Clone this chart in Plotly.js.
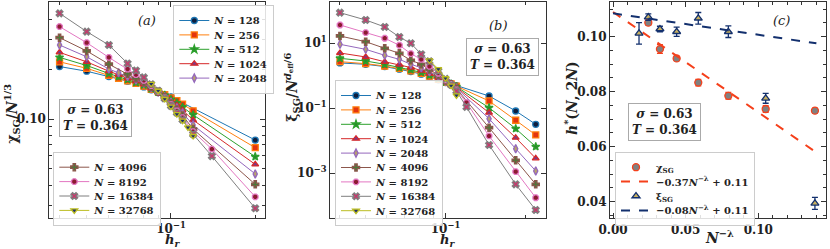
<!DOCTYPE html>
<html><head><meta charset="utf-8">
<script src="https://cdn.plot.ly/plotly-3.0.1.min.js"></script>
<style>html,body{margin:0;padding:0;background:#fff}#chart{width:830px;height:249px}</style>
</head><body><div id="chart"></div>
<script>
// ---------------- DATA ----------------
const sizes = ['128','256','512','1024','2048','4096','8192','16384','32768'];

// panel (a): chi_SG / N^{1/3} vs h_r
const hrA = [0.04,0.05,0.06,0.065,0.07,0.075,0.08,0.085,0.09,0.095,0.1,0.105,0.11,0.115,0.12,0.14,0.2];
const chi_128   = [0.207,0.194,0.180,null,0.169,null,0.156,0.150,0.145,0.140,0.136,null,null,null,null,null,0.0747];
const chi_256   = [0.221,0.202,0.183,0.176,0.170,0.164,0.158,0.151,0.146,0.140,0.134,0.129,0.123,null,0.112,null,0.0672];
const chi_512   = [0.235,0.210,0.188,0.180,0.173,0.166,0.160,0.152,0.145,0.139,0.131,0.125,0.118,null,0.106,null,0.0593];
const chi_1024  = [0.252,0.221,0.194,0.185,0.176,0.169,0.162,0.153,0.145,0.137,0.128,0.121,0.113,null,0.0986,null,0.0533];
const chi_2048  = [0.279,0.237,0.200,0.190,0.180,0.172,0.164,0.154,0.145,0.136,0.126,0.117,0.109,null,0.092,null,0.0467];
const chi_4096  = [0.309,0.257,0.214,null,0.187,0.176,0.166,0.156,0.146,0.135,0.124,0.114,0.105,null,0.087,null,0.0404];
const chi_8192  = [0.360,0.288,0.235,null,0.200,0.185,0.171,0.159,0.147,0.134,0.122,0.112,0.102,null,0.084,0.0659,0.0340];
const chi_16384 = [0.433,0.336,0.279,null,0.216,0.196,0.178,0.162,0.148,0.133,0.120,0.109,0.099,null,0.081,0.0598,0.0290];
const chi_32768 = [null,null,null,null,null,null,null,0.163,0.148,0.132,0.1186,0.107,0.0977,0.089,0.079,null,null];

// panel (b): xi_SG / N^{d_eff/6} vs h_r
const hrB = [0.04,0.05,0.059,0.067,0.074,0.081,0.087,0.094,0.1,0.105,0.11,0.12,0.146,0.184,0.219];
const xi_128   = [2.48,2.26,1.92,1.6,1.35,1.12,0.93,0.75,0.62,0.57,0.50,null,0.239,0.0826,0.0322];
const xi_256   = [2.72,2.36,2.0,1.68,1.42,1.18,0.97,0.78,0.63,0.565,0.48,null,0.168,0.0428,0.0151];
const xi_512   = [3.45,2.85,2.26,1.8,1.55,1.28,1.05,0.82,0.64,0.56,0.46,null,0.104,0.0236,0.0066];
const xi_1024  = [5.03,3.79,2.7,2.2,1.8,1.45,1.17,0.88,0.66,0.555,0.44,null,0.0733,0.01245,0.00288];
const xi_2048  = [9.3,6.5,4.27,3.2,2.26,1.77,1.32,0.95,0.68,0.55,0.42,null,0.0478,0.00571,0.00118];
const xi_4096  = [16.8,11.2,7.0,4.9,3.0,2.26,1.55,1.05,0.71,0.545,0.40,null,0.0253,0.00251,0.000458];
const xi_8192  = [36.6,21.2,14.3,8.7,4.8,3.2,1.95,1.2,0.75,0.54,0.37,0.15,0.0141,0.00112,0.000177];
const xi_16384 = [87.5,52.1,31.8,15.6,10.0,4.6,2.8,1.4,0.80,0.53,0.34,0.11,0.00743,0.000458,0.0000741];
const xi_32768 = [null,null,null,null,null,null,3.0,1.6,0.84,0.5,0.25,null,null,null,null];

// panel (c): h*(N,2N) vs N^{-lambda}
const nl_chi      = [0.0243,0.0323,0.0438,0.0587,0.0794,0.1051,0.139];
const hstar_chi   = [0.1051,0.0955,0.0921,0.0833,0.0785,0.0737,0.0731];
const hstar_chi_e = [0.0009,0.0016,0.0008,0.0012,0.0012,0.0012,0.0009];
const nl_xi       = [0.0179,0.0243,0.0323,0.0438,0.0587,0.0794,0.1051,0.139];
const hstar_xi    = [0.1012,0.1071,0.1028,0.1018,0.1067,0.1018,0.0776,0.0394];
const hstar_xi_e  = [0.0039,0.0012,0.0010,0.0017,0.0021,0.0021,0.0018,0.0022];
const fitRange    = [0, 0.14];
const fitChi = {slope: -0.365, intercept: 0.109};
const fitXi  = {slope: -0.078, intercept: 0.1085};

// ---------------- STYLE ----------------
const chiSets = [chi_128,chi_256,chi_512,chi_1024,chi_2048,chi_4096,chi_8192,chi_16384,chi_32768];
const xiSets  = [xi_128,xi_256,xi_512,xi_1024,xi_2048,xi_4096,xi_8192,xi_16384,xi_32768];
const lineCol = ['#1f77b4','#ff7f0e','#2ca02c','#d62728','#9467bd','#8c564b','#e377c2','#7f7f7f','#bcbd22'];
const faceCol = ['#0e1e3e','#e3350f','#2a8a2a','#7b3a8a','#b9a26a','#4a7a3a','#8c1a30','#d0306a','#20306a'];
const symbols = ['circle','square','star','triangle-up','diamond-tall','cross','octagon','x','triangle-down'];
const FONT = 'DejaVu Serif';
const AX = '#333';

const traces = [];
function seriesStyle(n,i){
  return {mode:'lines+markers', connectgaps:true, name:'<i>N</i> = '+n,
    line:{color:lineCol[i], width:1},
    marker:{symbol:symbols[i], size:6, color:faceCol[i], line:{color:lineCol[i], width:1.3}}};
}
sizes.forEach((n,i)=>{
  traces.push(Object.assign({x:hrA, y:chiSets[i], xaxis:'x', yaxis:'y', legend: i<5?'legend':'legend2'}, seriesStyle(n,i)));
});
sizes.forEach((n,i)=>{
  traces.push(Object.assign({x:hrB, y:xiSets[i], xaxis:'x2', yaxis:'y2', legend:'legend3'}, seriesStyle(n,i)));
});
const RED = '#f5401b', NAVY = '#13306e';
traces.push({x:nl_chi, y:hstar_chi, xaxis:'x3', yaxis:'y3', legend:'legend4', mode:'markers', name:'χ<sub>SG</sub>',
  error_y:{type:'data', array:hstar_chi_e, color:RED, thickness:1.3, width:3},
  marker:{symbol:'circle', size:7, color:'#808080', line:{color:RED, width:1.3}}});
traces.push({x:fitRange, y:fitRange.map(v=>fitChi.slope*v+fitChi.intercept), xaxis:'x3', yaxis:'y3', legend:'legend4',
  mode:'lines', name:'−0.37<i>N</i><sup>−λ</sup> + 0.11', line:{color:RED, width:2, dash:'dash'}});
traces.push({x:nl_xi, y:hstar_xi, xaxis:'x3', yaxis:'y3', legend:'legend4', mode:'markers', name:'ξ<sub>SG</sub>',
  error_y:{type:'data', array:hstar_xi_e, color:NAVY, thickness:1.3, width:3},
  marker:{symbol:'triangle-up', size:7, color:'#c8b060', line:{color:NAVY, width:1.3}}});
traces.push({x:fitRange, y:fitRange.map(v=>fitXi.slope*v+fitXi.intercept), xaxis:'x3', yaxis:'y3', legend:'legend4',
  mode:'lines', name:'−0.08<i>N</i><sup>−λ</sup> + 0.11', line:{color:NAVY, width:2, dash:'dash'}});

const tickFont = {family:FONT, size:12, color:'#222', weight:'bold'};
function baseAxis(extra){
  return Object.assign({ticks:'inside', ticklen:5, tickwidth:1, tickcolor:AX, showline:true, linecolor:AX, linewidth:1,
    mirror:'allticks', showgrid:false, zeroline:false, tickfont:tickFont, fixedrange:true, automargin:false}, extra);
}
const yDom = [0.1233, 0.9932];
const minorLog = {tickvals:[0.04,0.05,0.06,0.07,0.08,0.09,0.2], ticks:'inside', ticklen:3, tickcolor:AX};

const legendBase = {bgcolor:'rgba(255,255,255,0.85)', bordercolor:'#cccccc', borderwidth:1,
  font:{family:FONT, size:10, color:'#222', weight:'bold'}, xanchor:'left', yanchor:'top', itemwidth:30, tracegroupgap:0};

function ann(px, py, text, font, extra){
  return Object.assign({xref:'paper', yref:'paper', x:px/830, y:1-py/249, text:text, showarrow:false,
    xanchor:'center', yanchor:'middle', font:font}, extra||{});
}
const titleFont = {family:FONT, size:14, color:'#222', weight:'bold'};
const hrFont = {family:FONT, size:13, color:'#222', weight:'bold'};
const panelFont = {family:FONT, size:13, color:'#222'};
const boxFont = {family:FONT, size:12, color:'#222', weight:'bold'};
const boxStyle = {bordercolor:'#aaaaaa', borderwidth:1, borderpad:3, bgcolor:'#fff'};
const boxText = '<i>σ</i> = 0.63<br><i>T</i> = 0.364';

const layout = {
  width:830, height:249, margin:{l:0,r:0,t:0,b:0,autoexpand:false}, paper_bgcolor:'#fff', plot_bgcolor:'#fff',
  xaxis: baseAxis({type:'log', domain:[0.0594,0.3193], range:[-1.4346,-0.664], anchor:'y', ticklabelstandoff:-1,
    tickmode:'array', tickvals:[0.1], ticktext:['10<sup>−1</sup>'], minor:minorLog}),
  yaxis: baseAxis({type:'log', domain:yDom, range:[-1.598,-0.2934], anchor:'x',
    tickmode:'array', tickvals:[0.1], ticktext:['0.10'],
    minor:{tickvals:[0.03,0.04,0.05,0.06,0.07,0.08,0.09,0.2,0.3,0.4], ticks:'inside', ticklen:3, tickcolor:AX}}),
  xaxis2: baseAxis({type:'log', domain:[0.3976,0.6575], range:[-1.4356,-0.6219], anchor:'y2', ticklabelstandoff:-1,
    tickmode:'array', tickvals:[0.1], ticktext:['10<sup>−1</sup>'], minor:minorLog}),
  yaxis2: baseAxis({type:'log', domain:yDom, range:[-4.385,2.28], anchor:'x2',
    tickmode:'array', tickvals:[10,0.1,0.001], ticktext:['10<sup>1</sup>','10<sup>−1</sup>','10<sup>−3</sup>']}),
  xaxis3: baseAxis({domain:[0.7349,0.9948], range:[-0.0021,0.1464], anchor:'y3',
    tickmode:'array', tickvals:[0,0.05,0.1], ticktext:['0.00','0.05','0.10'],
    minor:{dtick:0.01, tick0:0, ticks:'inside', ticklen:3, tickcolor:AX}}),
  yaxis3: baseAxis({domain:yDom, range:[0.03396,0.11273], anchor:'x3',
    tickmode:'array', tickvals:[0.04,0.06,0.08,0.10], ticktext:['0.04','0.06','0.08','0.10'],
    minor:{dtick:0.005, tick0:0, ticks:'inside', ticklen:3, tickcolor:AX}}),
  legend:  Object.assign({}, legendBase, {x:173.3/830, y:1-5/249}),
  legend2: Object.assign({}, legendBase, {x:53.3/830, y:1-151.7/249}),
  legend3: Object.assign({}, legendBase, {x:335/830, y:1-80/249}),
  legend4: Object.assign({}, legendBase, {x:615/830, y:1-151.7/249}),
  annotations: [
    // axis titles
    ann(11.7, 114, 'χ<sub>SG</sub>/<i>N</i><sup>1/3</sup>', titleFont, {textangle:-90}),
    ann(172, 240, '<i>h</i><sub><i>r</i></sub>', hrFont),
    ann(291.7, 87, 'ξ<sub>SG</sub>/<i>N</i><sup><i>d</i><sub>eff</sub>/6</sup>', titleFont, {textangle:-90}),
    ann(447, 240, '<i>h</i><sub><i>r</i></sub>', hrFont),
    ann(571, 98, '<i>h</i><sup>*</sup>(<i>N</i>, 2<i>N</i>)', titleFont, {textangle:-90}),
    ann(719, 237, '<i>N</i><sup>−λ</sup>', titleFont),
    // panel labels
    ann(146.7, 20.7, '<i>(a)</i>', panelFont),
    ann(498.3, 25, '<i>(b)</i>', panelFont),
    ann(781.7, 20.7, '<i>(c)</i>', panelFont),
    // parameter boxes
    ann(95.5, 118.3, boxText, boxFont, boxStyle),
    ann(502.5, 56.7, boxText, boxFont, boxStyle),
    ann(664.7, 121.7, boxText, boxFont, boxStyle)
  ]
};

function compactLegends(gd, spacing){
  gd.querySelectorAll('.infolayer > g').forEach(g=>{
    const cls = g.getAttribute('class')||'';
    if(!/^legend/.test(cls)) return;
    const tr = g.querySelectorAll('.traces');
    if(tr.length<2) return;
    const parse = t=>{const m=/translate\(\s*([-\d.e]+)[ ,]+([-\d.e]+)/.exec(t.getAttribute('transform')||''); return m?[parseFloat(m[1]),parseFloat(m[2])]:null;};
    const p0=parse(tr[0]), p1=parse(tr[1]);
    if(!p0||!p1) return;
    const orig=p1[1]-p0[1];
    tr.forEach((t,i)=>{const p=parse(t); if(p) t.setAttribute('transform','translate('+p[0]+','+(p0[1]+i*spacing)+')');});
    const bg=g.querySelector('rect.bg');
    if(bg){const h=parseFloat(bg.getAttribute('height')); bg.setAttribute('height', h-(tr.length-1)*(orig-spacing));}
  });
}

Plotly.newPlot('chart', traces, layout, {staticPlot:true, displayModeBar:false}).then(gd=>{compactLegends(gd, 14.4);});
</script></body></html>
